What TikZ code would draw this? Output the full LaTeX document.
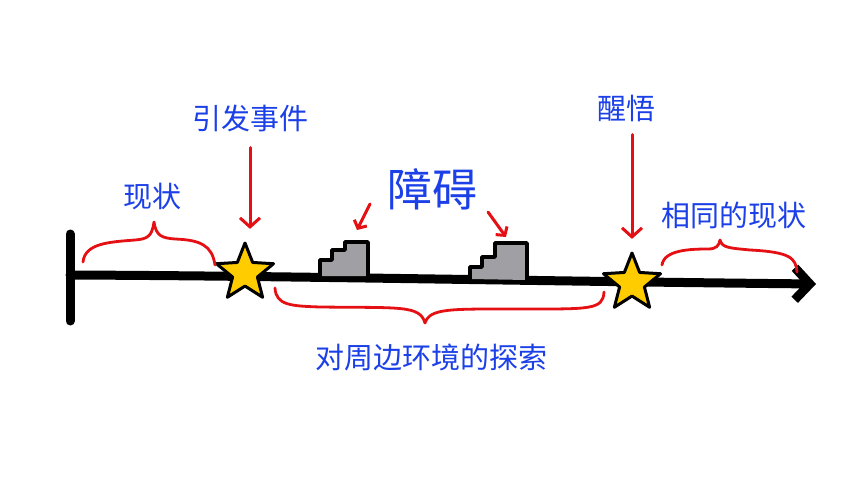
\documentclass[tikz,border=0pt]{standalone}
\usepackage{fontspec}
\newfontfamily\cjk{Noto Sans CJK SC}
\usetikzlibrary{arrows.meta,shapes.geometric,calc}
\definecolor{ink}{RGB}{0,0,0}
\definecolor{textblue}{RGB}{28,64,232}
\definecolor{markred}{RGB}{228,16,20}
\definecolor{stargold}{RGB}{255,204,0}
\definecolor{stairgrey}{RGB}{160,160,164}

\begin{document}
\begin{tikzpicture}[
  x=1pt,
  y=-1pt,
  line cap=round,
  line join=round,
  bluetext/.style={
    font=\cjk\fontsize{29}{33}\selectfont,
    text=textblue,
    inner sep=0pt
  },
  bigtext/.style={
    bluetext,
    font=\cjk\fontsize{45}{50}\selectfont
  },
  timeline/.style={
    draw=ink,
    line width=9pt
  },
  redarrow/.style={
    -{Straight Barb[length=9pt,width=20pt]},
    draw=markred,
    line width=3pt
  },
  smallarrow/.style={
    -{Straight Barb[length=6pt,width=14pt]},
    draw=markred,
    line width=3pt
  },
  bracepath/.style={
    draw=markred,
    line width=2.8pt
  },
  event/.style={
    star,
    star points=5,
    star point ratio=2.3,
    minimum size=60pt,
    inner sep=0pt,
    fill=stargold,
    draw=ink,
    line width=3pt
  },
  stairs/.style={
    fill=stairgrey,
    draw=ink,
    line width=3.6pt
  }
]
\useasboundingbox (0,0) rectangle (860,484);

% Time line with its start bar.
\draw[timeline] (70,234) -- (70,321);
\draw[timeline,-{Straight Barb[length=15pt,width=32pt]}]
  (70,275) .. controls (300,276) and (520,281) .. (816,284);

% Obstacles on the line.
\draw[stairs] (320,276) -- (320,260) -- (332,260) -- (332,250) -- (345,250)
  -- (345,242) -- (368,242) -- (368,276);
\draw[stairs] (470,279) -- (470,267) -- (482,267) -- (482,257) -- (495,257)
  -- (495,243) -- (527,243) -- (527,280);

% Events.
\node[event] (trigger) at (245,273) {};
\node[event] (insight) at (632,283) {};

% Labels.
\node[bluetext] (triggertext) at (250,118) {引发事件};
\node[bluetext] (statustext) at (152,197) {现状};
\node[bigtext] (obstacletext) at (432,189) {障碍};
\node[bluetext] (exploretext) at (431,357) {对周边环境的探索};
\node[bluetext] (insighttext) at (626,108) {醒悟};
\node[bluetext] (sametext) at (734,215) {相同的现状};

% Pointers.
\draw[redarrow,shorten <=16pt,shorten >=10pt]
  (triggertext.south) -- (triggertext.south |- trigger.north);
\draw[redarrow,shorten <=13pt,shorten >=10pt]
  (insighttext.south -| insight.north) -- (insight.north);

\coordinate (obstacleleft) at (370,204);
\coordinate (stepleft) at (357,230);
\coordinate (obstacleright) at (488,212);
\coordinate (stepright) at (506,237);
\draw[smallarrow] (obstacleleft) -- (stepleft);
\draw[smallarrow] (obstacleright) -- (stepright);

% Braces.
\draw[bracepath] (83,262) .. controls (85,243) and (110,242) .. (135,240)
  .. controls (148,239) and (152,236) .. (154,222)
  .. controls (156,236) and (162,238) .. (175,239)
  .. controls (200,240) and (212,245) .. (215,265);
\draw[bracepath] (275,288) .. controls (276,305) and (290,306) .. (320,307)
  .. controls (400,308) and (420,305) .. (425,323)
  .. controls (430,308) and (450,309) .. (520,309)
  .. controls (590,309) and (603,310) .. (604,292);
\draw[bracepath] (662,265) .. controls (664,250) and (690,249) .. (708,249)
  .. controls (716,249) and (719,246) .. (720,240)
  .. controls (722,248) and (730,248) .. (750,250)
  .. controls (790,252) and (796,258) .. (797,272);
\end{tikzpicture}
\end{document}
